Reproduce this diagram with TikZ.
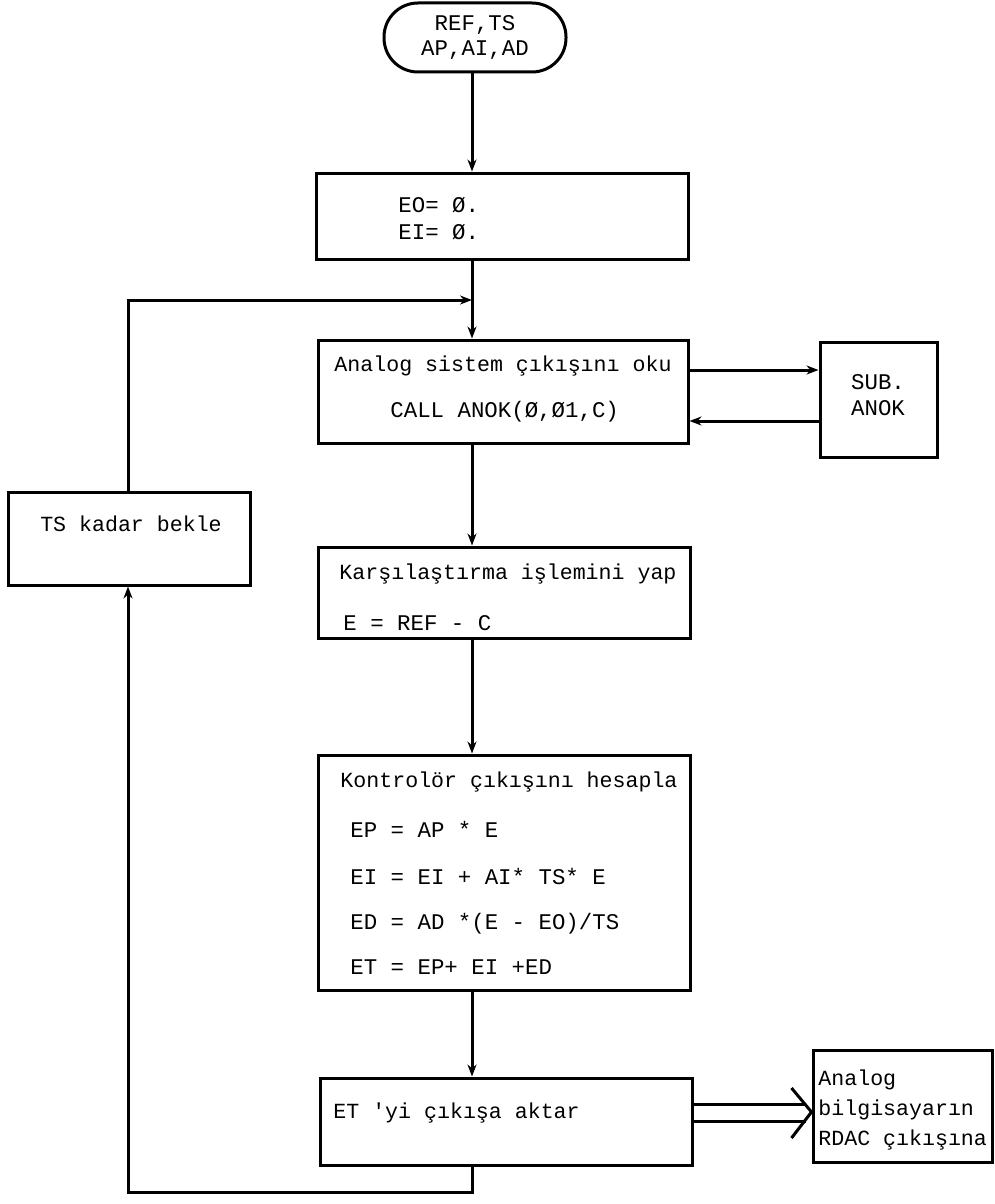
\documentclass[tikz,border=0pt]{standalone}
\usepackage{fontspec}
\setmonofont{Liberation Mono}
\usetikzlibrary{arrows.meta,fit}
\begin{document}
\begin{tikzpicture}[x=0.5pt,y=-0.5pt,
  box/.style={draw, line width=1.5pt, inner sep=0pt},
  term/.style={box, rounded corners=17pt},
  lbl/.style={font=\ttfamily\fontsize{10.8pt}{12pt}\selectfont, inner sep=0pt},
  frm/.style={font=\ttfamily\fontsize{11.2pt}{12pt}\selectfont, inner sep=0pt},
  con/.style={line width=1.5pt},
  arr/.style={con, -{Stealth[length=6pt,width=4.5pt]}}]
\useasboundingbox (0,0) rectangle (995,1204);

% boxes
\node[term, fit={(384,3)(566,72)}] (t) {};
\node[box, fit={(316,173)(688,259)}] (b1) {};
\node[box, fit={(318,340)(688,443)}] (b2) {};
\node[box, fit={(820,342)(937,457)}] (s) {};
\node[box, fit={(8,492)(250,585)}] (ts) {};
\node[box, fit={(318,547)(690,638)}] (b3) {};
\node[box, fit={(318,755)(690,990)}] (b4) {};
\node[box, fit={(320,1078)(692,1165)}] (b5) {};
\node[box, fit={(813,1050)(992,1162)}] (o) {};

% texts
\node[frm] (t1) at (475,25) {REF,TS};
\node[frm] (t2) at (475,50) {AP,AI,AD};
\node[frm, anchor=west] (b1a) at (398,205) {EO= Ø.};
\node[frm, anchor=west] (b1b) at (398,232) {EI= Ø.};
\node[lbl] (b2a) at (503,366) {Analog sistem çıkışını oku};
\node[frm, anchor=west] (b2b) at (390,412) {CALL ANOK(Ø,Ø1,C)};
\node[frm] (s1) at (878,382) {SUB.};
\node[frm] (s2) at (878,408) {ANOK};
\node[lbl] (tsa) at (131,524) {TS kadar bekle};
\node[lbl] (b3a) at (508,574) {Karşılaştırma işlemini yap};
\node[frm, anchor=west] (b3b) at (343,623) {E = REF - C};
\node[lbl] (b4a) at (509,782) {Kontrolör çıkışını hesapla};
\node[frm, anchor=west] (b4b) at (350,829) {EP = AP * E};
\node[frm, anchor=west] (b4c) at (350,876) {EI = EI + AI* TS* E};
\node[frm, anchor=west] (b4d) at (350,924) {ED = AD *(E - EO)/TS};
\node[frm, anchor=west] (b4e) at (350,967) {ET = EP+ EI +ED};
\node[lbl, anchor=west] (b5a) at (333,1113) {ET 'yi çıkışa aktar};
\node[lbl, anchor=west] (o1) at (818,1080) {Analog};
\node[lbl, anchor=west] (o2) at (818,1110) {bilgisayarın};
\node[lbl, anchor=west] (o3) at (818,1140) {RDAC çıkışına};

% main flow
\coordinate (mx) at (472,0);
\coordinate (j1) at (472,300);
\draw[arr] (mx |- t.south) -- (mx |- b1.north);
\draw[con] (mx |- b1.south) -- (j1);
\draw[arr] (j1) -- (mx |- b2.north);
\draw[arr] (mx |- b2.south) -- (mx |- b3.north);
\draw[arr] (mx |- b3.south) -- (mx |- b4.north);
\draw[arr] (mx |- b4.south) -- (mx |- b5.north);

% subroutine
\coordinate (sa) at (0,370);
\coordinate (sb) at (0,421);
\draw[arr] (b2.east |- sa) -- (s.west |- sa);
\draw[arr] (s.west |- sb) -- (b2.east |- sb);

% feedback loop
\coordinate (fb) at (128,1192);
\coordinate (ft) at (128,300);
\draw[arr] (mx |- b5.south) -- (mx |- fb) -- (fb) -- (fb |- ts.south);
\draw[arr] (ft |- ts.north) -- (ft) -- (j1);

% output double arrow
\coordinate (d1) at (0,1104);
\coordinate (d2) at (0,1121);
\coordinate (dt) at (0,1112);
\draw[con] (b5.east |- d1) -- ([xshift=-3pt]o.west |- d1);
\draw[con] (b5.east |- d2) -- ([xshift=-3pt]o.west |- d2);
\draw[con] ([xshift=-10pt,yshift=12pt]o.west |- dt) -- (o.west |- dt) -- ([xshift=-10pt,yshift=-13pt]o.west |- dt);
\end{tikzpicture}
\end{document}
